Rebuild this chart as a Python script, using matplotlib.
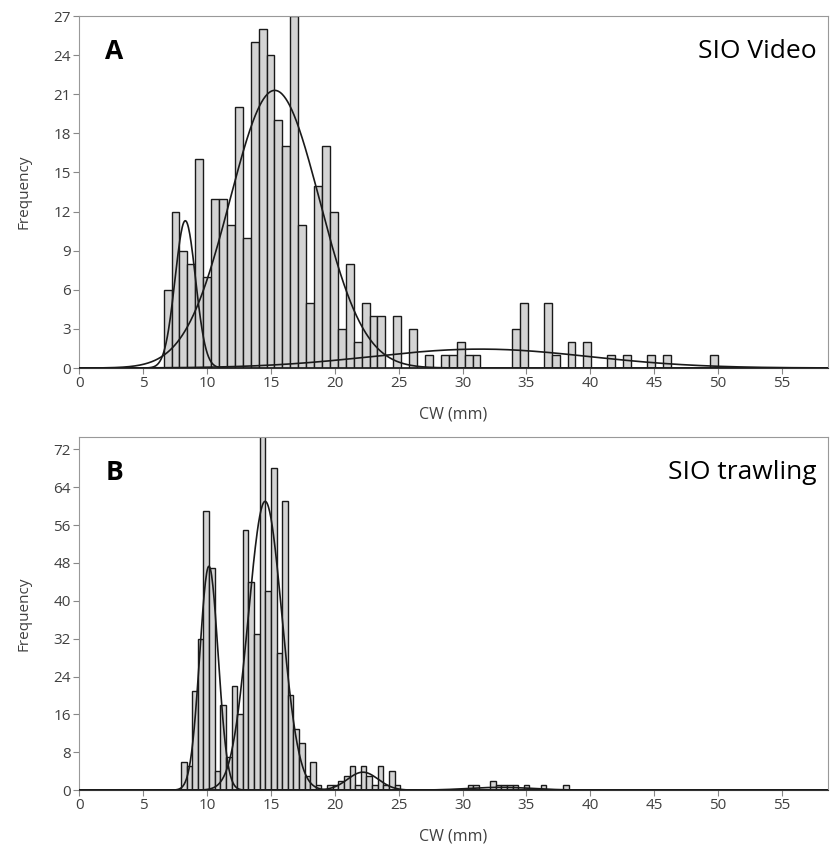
import numpy as np
import matplotlib
matplotlib.use("Agg")
import matplotlib.pyplot as plt

plt.rcParams['font.family'] = ['Open Sans', 'DejaVu Sans']

# panel A: SIO Video, bins of 0.62 mm starting at 6.6 mm
a_start = 6.6
a_width = 0.62
a_counts = [6, 12, 9, 8, 16, 7, 13, 13, 11, 20,
            10, 25, 26, 24, 19, 17, 27, 11, 5, 14,
            17, 12, 3, 8, 2, 5, 4, 4, 0, 4,
            0, 3, 0, 1, 0, 1, 1, 2, 1, 1,
            0, 0, 0, 0, 3, 5, 0, 0, 5, 1,
            0, 2, 0, 2, 0, 0, 1, 0, 1, 0,
            0, 1, 0, 1, 0, 0, 0, 0, 0, 1]
# fitted components (mean, sd, peak height)
a_means = [8.3, 15.3, 31.4]
a_sds = [0.8, 3.5, 8.5]
a_peaks = [11.3, 21.3, 1.45]

# panel B: SIO trawling, bins of 0.44 mm starting at 7.96 mm
b_start = 7.96
b_width = 0.44
b_counts = [6, 5, 21, 32, 59, 47, 4, 18, 7, 22,
            16, 55, 44, 33, 75, 42, 68, 29, 61, 20,
            13, 10, 3, 6, 1, 0, 1, 1, 2, 3,
            5, 1, 5, 3, 1, 5, 1, 4, 1, 0,
            0, 0, 0, 0, 0, 0, 0, 0, 0, 0,
            0, 1, 1, 0, 0, 2, 1, 1, 1, 1,
            0, 1, 0, 0, 1, 0, 0, 0, 1]
b_means = [10.15, 14.55, 22.2, 33.0]
b_sds = [0.72, 1.31, 1.2, 2.5]
b_peaks = [47.3, 61.0, 3.8, 0.6]

xmax = 58.6


def draw_panel(ax, start, width, counts, means, sds, peaks, ymax, ystep, letter, title):
    lefts = start + width * np.arange(len(counts))
    ax.bar(lefts, counts, width=width, align='edge', color='#d4d4d4',
           edgecolor='#1a1a1a', linewidth=1.0, zorder=2)
    xs = np.linspace(0, xmax, 1200)
    for m, s, p in zip(means, sds, peaks):
        ax.plot(xs, p * np.exp(-0.5 * ((xs - m) / s) ** 2), color='#1a1a1a',
                lw=1.2, zorder=3)
    ax.set_xlim(0, xmax)
    ax.set_ylim(0, ymax)
    ax.set_xticks(np.arange(0, 56, 5))
    ax.set_yticks(np.arange(0, ymax + 0.1, ystep))
    for side in ['top', 'left', 'right']:
        ax.spines[side].set_color('#999999')
    ax.spines['bottom'].set_color('#333333')
    ax.tick_params(direction='out', length=4, color='#888888', labelsize=11,
                   labelcolor='#404040', pad=2)
    ax.set_ylabel('Frequency', fontsize=11, color='#404040', labelpad=16)
    ax.set_xlabel('CW (mm)', fontsize=11.5, color='#404040', labelpad=11)
    ax.text(0.035, 0.9, letter, transform=ax.transAxes, fontsize=19,
            fontweight='bold', va='center', ha='left', color='black')
    ax.text(0.985, 0.9, title, transform=ax.transAxes, fontsize=19,
            va='center', ha='right', color='black')


fig = plt.figure(figsize=(8.3, 8.46), dpi=100)
ax1 = fig.add_axes([0.0955, 0.565, 0.902, 0.416])
ax2 = fig.add_axes([0.0955, 0.066, 0.902, 0.4175])

draw_panel(ax1, a_start, a_width, a_counts, a_means, a_sds, a_peaks,
           27, 3, 'A', 'SIO Video')
draw_panel(ax2, b_start, b_width, b_counts, b_means, b_sds, b_peaks,
           74.6, 8, 'B', 'SIO trawling')
ax2.set_yticks(np.arange(0, 73, 8))

fig.savefig('out.png', dpi=100)
